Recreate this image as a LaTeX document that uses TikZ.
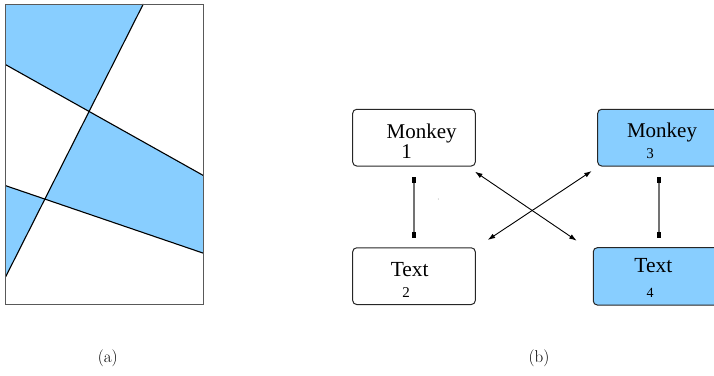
\documentclass[tikz,border=0pt]{standalone}
\usepackage{fontspec}
\newfontfamily\tnr{Liberation Serif}
\usetikzlibrary{arrows.meta}
\definecolor{skyfill}{RGB}{136,206,255}
\begin{document}
\begin{tikzpicture}[x=1pt,y=-1pt,
  region/.style={fill=skyfill},
  cutline/.style={black,line width=1.1pt},
  frame/.style={draw=black!65,line width=1pt},
  box/.style={draw=black!85,line width=1pt,rounded corners=4pt,minimum width=122.6pt,minimum height=56.7pt,inner sep=0pt},
  bluebox/.style={box,fill=skyfill},
  big/.style={font=\tnr\fontsize{21}{24}\selectfont,anchor=base,inner sep=0pt},
  small/.style={font=\tnr\fontsize{15}{18}\selectfont,anchor=base,inner sep=0pt},
  caption/.style={font=\fontsize{17}{20}\selectfont,anchor=base,inner sep=0pt},
  vconn/.style={draw=black!55,line width=1.2pt,{Square[black,width=4pt,length=6pt]}-{Square[black,width=4pt,length=6pt]}},
  dconn/.style={black,line width=0.9pt,{Latex[length=7.5pt,width=5pt]}-{Latex[length=7.5pt,width=5pt]}}
]
\useasboundingbox (0,0) rectangle (714,375);
\clip (0,0) rectangle (714,375);
% panel (a)
\fill[region] (5.7,4) -- (143.3,4) -- (89.08,111.44) -- (5.7,64.7) -- cycle;
\fill[region] (89.08,111.44) -- (203.7,175.7) -- (203.7,253.3) -- (44.86,199.07) -- cycle;
\fill[region] (5.7,185.7) -- (44.86,199.07) -- (5.7,276.7) -- cycle;
\draw[cutline] (143.3,4) -- (5.7,276.7);
\draw[cutline] (5.7,64.7) -- (203.7,175.7);
\draw[cutline] (5.7,185.7) -- (203.7,253.3);
\draw[frame] (5.7,4) rectangle (203.7,304.7);
\node[caption] (capa) at (107.7,362.5) {(a)};
% panel (b)
\node[box] (b1) at (414,137.65) {};
\node[bluebox] (b3) at (659,137.65) {};
\node[box] (b2) at (414,276.15) {};
\node[bluebox,minimum height=57.3pt,minimum width=130pt] (b4) at (658.3,276.35) {};
\node[big] (t1) at (421.7,138.3) {Monkey};
\node[big] (n1) at (406.7,158.3) {1};
\node[big] (t3) at (662,137.7) {Monkey};
\node[small] (n3) at (650,158.3) {3};
\node[big,font=\tnr\fontsize{21.5}{24}\selectfont] (t2) at (409.7,276.7) {Text};
\node[small] (n2) at (406,297.3) {2};
\node[big,font=\tnr\fontsize{21.5}{24}\selectfont] (t4) at (653.3,272.7) {Text};
\node[small,font=\tnr\fontsize{14}{17}\selectfont] (n4) at (650,297.3) {4};
\draw[vconn,shorten <=10pt,shorten >=9pt] (b1.south) -- (b2.north);
\draw[vconn,shorten <=10pt,shorten >=9pt] (b3.south) -- (b3.south |- b4.north);
\coordinate (d1a) at (475,171.7);
\coordinate (d1b) at (576.7,240.7);
\coordinate (d2a) at (591.7,171);
\coordinate (d2b) at (487.7,240);
\draw[dconn] (d1a) -- (d1b);
\draw[dconn] (d2a) -- (d2b);
\fill[black!40] (438.3,199) circle (0.5pt);
\node[caption] (capb) at (539,362.5) {(b)};
\end{tikzpicture}
\end{document}
